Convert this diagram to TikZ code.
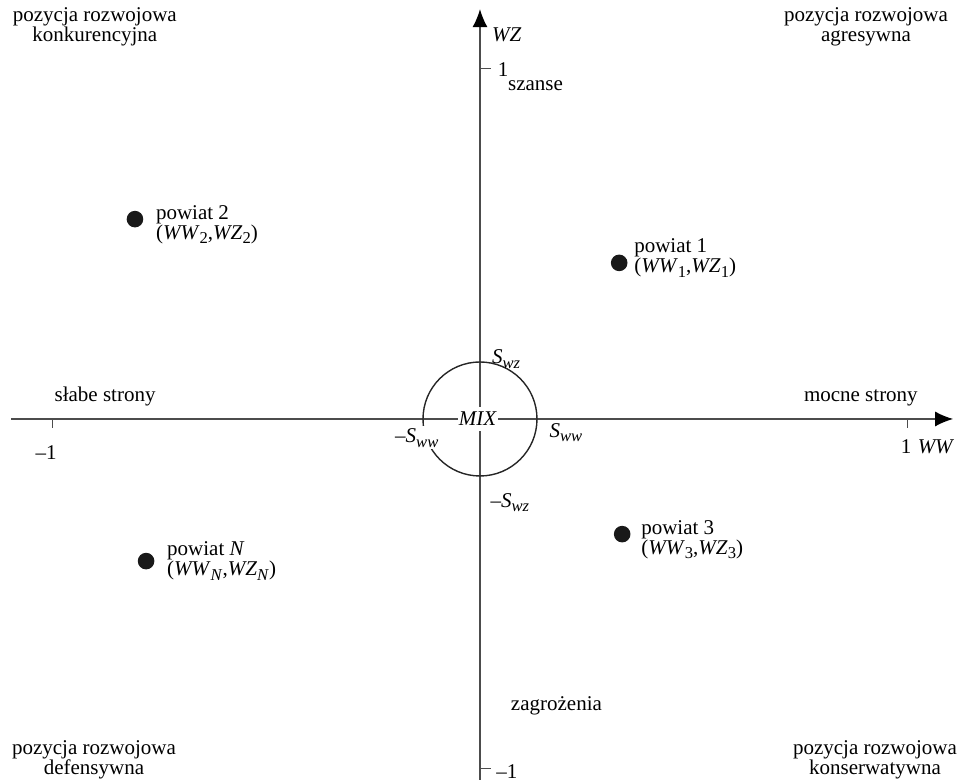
\documentclass[tikz,border=0pt]{standalone}
\usepackage{fontspec}
\setmainfont{Liberation Serif}
\usepackage{tikz}
\usetikzlibrary{arrows.meta, positioning}

% indeks dolny nieco większy niż \textsubscript
\newcommand{\idx}[1]{\raisebox{-2.4pt}{\fontsize{8.3}{8}\selectfont #1}}

\begin{document}
\begin{tikzpicture}[
        x=213.5pt, y=175pt,
        every node/.style={font=\fontsize{10.5}{10}\selectfont, align=center, inner sep=1pt},
        axis/.style={black!70, line width=0.7pt, -{Latex[length=9pt, width=7.5pt, color=black]}},
        tick/.style={black!70, line width=0.5pt},
        ring/.style={black!85, line width=0.7pt},
        dot/.style={circle, fill=black!90, inner sep=0pt, minimum size=8.3pt},
        plabel/.style={align=left},
        cut/.style={fill=white}
    ]
        \useasboundingbox (-1.1241,-1.0314) rectangle (1.1241,1.1971);

        % Osie WW i WZ
        \coordinate (O) at (0,0);
        \coordinate (wwL) at (-1.098,0);
        \coordinate (wwR) at (1.108,0);
        \coordinate (wzB) at (0,-1.031);
        \coordinate (wzT) at (0,1.171);
        \draw[axis] (wwL) -- (wwR);
        \draw[axis] (wzB) -- (wzT);
        \foreach \x in {-1,1}
            \draw[tick] (\x,0) -- ++(0,-4.5pt);
        \foreach \y in {-1,1}
            \draw[tick] (0,\y) -- ++(5.5pt,0);

        \node (wwone) at (0.998,-0.080) {1};
        \node (wwmone) at (-1.016,-0.097) {--1};
        \node (wzone) at (0.054,0.998) {1};
        \node (wzmone) at (0.063,-1.006) {--1};
        \node (wwlab) at (1.068,-0.080) {\textit{WW}};
        \node (wzlab) at (0.063,1.097) {\textit{WZ}};

        \node (weak) at (-0.878,0.063) {słabe strony};
        \node (strong) at (0.892,0.060) {mocne strony};
        \node (chance) at (0.130,0.951) {szanse};
        \node (threat) at (0.179,-0.820) {zagrożenia};

        % Pozycje rozwojowe w narożnikach
        \node (konk) at (-0.902,1.120) {pozycja rozwojowa\\konkurencyjna};
        \node (agr)  at ( 0.904,1.120) {pozycja rozwojowa\\agresywna};
        \node (def)  at (-0.904,-0.973) {pozycja rozwojowa\\defensywna};
        \node (kons) at ( 0.925,-0.973) {pozycja rozwojowa\\konserwatywna};

        % Okrąg MIX
        \draw[ring] (O) circle (28.5pt);
        \node[cut, inner xsep=0.5pt, inner ysep=2.5pt] (mix) at (-0.005,0) {\textit{MIX}};
        \node (swz) at (0.061,0.172) {\textit{S}\idx{\textit{wz}}};
        \node (sww) at (0.201,-0.039) {\textit{S}\idx{\textit{ww}}};
        \node[cut] (msww) at (-0.148,-0.054) {--\textit{S}\idx{\textit{ww}}};
        \node (mswz) at (0.070,-0.239) {--\textit{S}\idx{\textit{wz}}};

        % Powiaty
        \node[dot] (p1) at (0.326,0.446) {};
        \node[dot] (p2) at (-0.808,0.571) {};
        \node[dot] (p3) at (0.333,-0.329) {};
        \node[dot] (pN) at (-0.782,-0.406) {};
        \node[plabel, right=2pt of p1, yshift=2.5pt] (l1) {powiat 1\\(\textit{WW}\idx{1},\textit{WZ}\idx{1})};
        \node[plabel, right=5pt of p2, yshift=-2.75pt] (l2) {powiat 2\\(\textit{WW}\idx{2},\textit{WZ}\idx{2})};
        \node[plabel, right=4pt of p3, yshift=-2.75pt] (l3) {powiat 3\\(\textit{WW}\idx{3},\textit{WZ}\idx{3})};
        \node[plabel, right=5pt of pN] (lN) {powiat \textit{N}\\(\textit{WW}\idx{\textit{N}},\textit{WZ}\idx{\textit{N}})};
    \end{tikzpicture}
\end{document}
